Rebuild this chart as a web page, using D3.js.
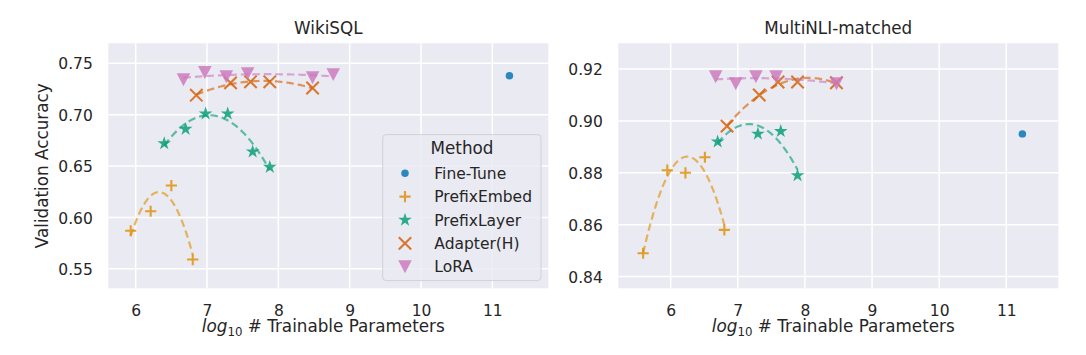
<!DOCTYPE html>
<html>
<head>
<meta charset="utf-8">
<script src="https://cdn.jsdelivr.net/npm/d3@7"></script>
<style>
  body { margin: 0; background: #ffffff; }
  svg { display: block; font-family: "DejaVu Sans", sans-serif; }
</style>
</head>
<body>
<div id="chart"></div>
<script>
// ---------- data ----------
const methods = ["Fine-Tune", "PrefixEmbed", "PrefixLayer", "Adapter(H)", "LoRA"];
const methodColors = ["#0173b2", "#de8f05", "#029e73", "#d55e00", "#cc78bc"];
const panelTitles = ["WikiSQL", "MultiNLI-matched"];
const xTicks = [6, 7, 8, 9, 10, 11];
const wikiYTicks = [0.55, 0.60, 0.65, 0.70, 0.75];
const mnliYTicks = [0.84, 0.86, 0.88, 0.90, 0.92];

// WikiSQL
const wikiFineTuneX = [11.24];
const wikiFineTuneY = [0.738];
const wikiPrefixEmbedX = [5.93, 6.21, 6.50, 6.80];
const wikiPrefixEmbedY = [0.587, 0.606, 0.631, 0.559];
const wikiPrefixLayerX = [6.40, 6.70, 6.98, 7.29, 7.64, 7.88];
const wikiPrefixLayerY = [0.672, 0.686, 0.701, 0.701, 0.664, 0.649];
const wikiAdapterX = [6.85, 7.33, 7.61, 7.88, 8.48];
const wikiAdapterY = [0.719, 0.731, 0.732, 0.732, 0.726];
const wikiLoraX = [6.67, 6.97, 7.27, 7.57, 8.48, 8.77];
const wikiLoraY = [0.734, 0.741, 0.737, 0.740, 0.736, 0.739];

// MultiNLI-matched
const mnliFineTuneX = [11.24];
const mnliFineTuneY = [0.895];
const mnliPrefixEmbedX = [5.59, 5.95, 6.22, 6.51, 6.80];
const mnliPrefixEmbedY = [0.849, 0.881, 0.880, 0.886, 0.858];
const mnliPrefixLayerX = [6.70, 7.30, 7.64, 7.89];
const mnliPrefixLayerY = [0.892, 0.895, 0.896, 0.879];
const mnliAdapterX = [6.84, 7.32, 7.60, 7.89, 8.47];
const mnliAdapterY = [0.898, 0.910, 0.915, 0.915, 0.9147];
const mnliLoraX = [6.67, 6.97, 7.27, 7.57, 8.47];
const mnliLoraY = [0.917, 0.9143, 0.917, 0.917, 0.9143];

// ---------- build tables ----------
function series(xs, ys) { return xs.map((x, i) => ({x: x, y: ys[i]})); }
const panels = [
  {
    title: panelTitles[0], yTicks: wikiYTicks, fmt: d3.format(".2f"),
    xDomain: [5.616, 11.785], yDomain: [0.531, 0.7695],
    left: 108.3, showYLabel: true, legend: true,
    groups: [
      series(wikiFineTuneX, wikiFineTuneY),
      series(wikiPrefixEmbedX, wikiPrefixEmbedY),
      series(wikiPrefixLayerX, wikiPrefixLayerY),
      series(wikiAdapterX, wikiAdapterY),
      series(wikiLoraX, wikiLoraY)
    ]
  },
  {
    title: panelTitles[1], yTicks: mnliYTicks, fmt: d3.format(".2f"),
    xDomain: [5.22, 11.775], yDomain: [0.8355, 0.9299],
    left: 618.3, showYLabel: false, legend: false,
    groups: [
      series(mnliFineTuneX, mnliFineTuneY),
      series(mnliPrefixEmbedX, mnliPrefixEmbedY),
      series(mnliPrefixLayerX, mnliPrefixLayerY),
      series(mnliAdapterX, mnliAdapterY),
      series(mnliLoraX, mnliLoraY)
    ]
  }
];

// least-squares quadratic regression (seaborn regplot order=2)
function polyfit2(pts) {
  let s = [0,0,0,0,0], t = [0,0,0];
  pts.forEach(p => {
    let xp = 1;
    for (let k = 0; k < 5; k++) { s[k] += xp; if (k < 3) t[k] += xp * p.y; xp *= p.x; }
  });
  const A = [[s[0], s[1], s[2], t[0]], [s[1], s[2], s[3], t[1]], [s[2], s[3], s[4], t[2]]];
  for (let i = 0; i < 3; i++) {
    let m = i;
    for (let r = i + 1; r < 3; r++) if (Math.abs(A[r][i]) > Math.abs(A[m][i])) m = r;
    [A[i], A[m]] = [A[m], A[i]];
    for (let r = 0; r < 3; r++) {
      if (r === i) continue;
      const f = A[r][i] / A[i][i];
      for (let c = i; c < 4; c++) A[r][c] -= f * A[i][c];
    }
  }
  return [A[0][3] / A[0][0], A[1][3] / A[1][1], A[2][3] / A[2][2]];
}

// ---------- markers ----------
function markerPath(i) {
  if (i === 0) return d3.symbol(d3.symbolCircle, 44)();
  if (i === 1) { const s = 5.6; return `M${-s},0H${s}M0,${-s}V${s}`; }
  if (i === 2) return d3.symbol(d3.symbolStar, 58)();
  if (i === 3) { const s = 6.2; return `M${-s},${-s}L${s},${s}M${-s},${s}L${s},${-s}`; }
  const a = 6.8; return `M${-a},${-a * 0.95}L${a},${-a * 0.95}L0,${a * 0.95}Z`;
}
function styleMarker(sel, i) {
  const c = methodColors[i];
  if (i === 1 || i === 3) {
    sel.attr("fill", "none").attr("stroke", c).attr("stroke-width", 2.1);
  } else {
    sel.attr("fill", c).attr("stroke", "none");
  }
  sel.attr("opacity", 0.82);
}

// ---------- draw ----------
const W = 1086, H = 355;
const plotTop = 43.3, plotBottom = 288.3, pw = 440;
const svg = d3.select("#chart").append("svg").attr("width", W).attr("height", H);
svg.append("rect").attr("width", W).attr("height", H).attr("fill", "#ffffff");

panels.forEach(p => {
  const x = d3.scaleLinear().domain(p.xDomain).range([p.left, p.left + pw]);
  const y = d3.scaleLinear().domain(p.yDomain).range([plotBottom, plotTop]);
  const g = svg.append("g");

  g.append("rect").attr("x", p.left).attr("y", plotTop).attr("width", pw).attr("height", plotBottom - plotTop)
    .attr("fill", "#eaeaf2");

  // grid
  g.selectAll(".vg").data(xTicks).enter().append("line")
    .attr("x1", d => x(d)).attr("x2", d => x(d)).attr("y1", plotTop).attr("y2", plotBottom)
    .attr("stroke", "#ffffff").attr("stroke-width", 1.5);
  g.selectAll(".hg").data(p.yTicks).enter().append("line")
    .attr("x1", p.left).attr("x2", p.left + pw).attr("y1", d => y(d)).attr("y2", d => y(d))
    .attr("stroke", "#ffffff").attr("stroke-width", 1.5);

  // axes via d3 axis (no tick lines, no domain)
  const xAxis = d3.axisBottom(x).tickValues(xTicks).tickSize(0).tickPadding(0).tickFormat(d3.format("d"));
  const gx = g.append("g").attr("transform", `translate(0,${plotBottom})`).call(xAxis);
  gx.select(".domain").remove();
  gx.selectAll("text").attr("font-size", 15.5).attr("fill", "#262626")
    .attr("font-family", "DejaVu Sans").attr("dy", null).attr("y", 28.2);

  const yAxis = d3.axisLeft(y).tickValues(p.yTicks).tickSize(0).tickPadding(0).tickFormat(p.fmt);
  const gy = g.append("g").attr("transform", `translate(${p.left - 15.5},0)`).call(yAxis);
  gy.select(".domain").remove();
  gy.selectAll("text").attr("font-size", 15.5).attr("fill", "#262626")
    .attr("font-family", "DejaVu Sans").attr("x", 0).attr("dy", "0.36em");

  // title
  g.append("text").attr("x", p.left + pw / 2).attr("y", 34).attr("text-anchor", "middle")
    .attr("font-size", 16.8).attr("fill", "#262626").text(p.title);

  // x label
  const xl = g.append("text").attr("x", p.left + pw / 2 - 5).attr("y", 332.3).attr("text-anchor", "middle")
    .attr("font-size", 16.8).attr("fill", "#262626");
  xl.append("tspan").attr("font-style", "italic").text("log");
  xl.append("tspan").attr("font-size", 11.8).attr("dy", 3.5).text("10");
  xl.append("tspan").attr("dy", -3.5).text(" # Trainable Parameters");

  if (p.showYLabel) {
    g.append("text").attr("transform", `translate(47.5,${(plotTop + plotBottom) / 2}) rotate(-90)`)
      .attr("text-anchor", "middle").attr("font-size", 16.8).attr("fill", "#262626")
      .text("Validation Accuracy");
  }

  const line = d3.line().x(d => x(d.x)).y(d => y(d.y));
  p.groups.forEach((pts, i) => {
    // markers
    g.selectAll(null).data(pts).enter().append("path")
      .attr("d", markerPath(i))
      .attr("transform", d => `translate(${x(d.x)},${y(d.y)})`)
      .call(styleMarker, i);
    // regression curve
    if (pts.length >= 3) {
      const c = polyfit2(pts);
      const [lo, hi] = d3.extent(pts, d => d.x);
      const curve = d3.range(0, 101).map(k => {
        const xv = lo + (hi - lo) * k / 100;
        return {x: xv, y: c[0] + c[1] * xv + c[2] * xv * xv};
      });
      g.append("path").datum(curve).attr("d", line).attr("fill", "none")
        .attr("stroke", methodColors[i]).attr("stroke-width", 2.2)
        .attr("stroke-dasharray", "7.5,4").attr("opacity", 0.62);
    }
  });

  if (p.legend) {
    const lg = g.append("g");
    lg.append("rect").attr("x", 382.7).attr("y", 134.6).attr("width", 158.3).attr("height", 146)
      .attr("rx", 3.5).attr("fill", "#eaeaf2").attr("fill-opacity", 0.8)
      .attr("stroke", "#cccccc").attr("stroke-opacity", 0.8).attr("stroke-width", 1);
    lg.append("text").attr("x", 462).attr("y", 154).attr("text-anchor", "middle")
      .attr("font-size", 16.8).attr("fill", "#262626").text("Method");
    methods.forEach((m, i) => {
      const cy = 173.3 + i * 23.35;
      lg.append("path").attr("d", markerPath(i)).attr("transform", `translate(405,${cy})`).call(styleMarker, i);
      lg.append("text").attr("x", 434.3).attr("y", cy).attr("dy", "0.36em")
        .attr("font-size", 15.5).attr("fill", "#262626").text(m);
    });
  }
});
</script>
</body>
</html>
